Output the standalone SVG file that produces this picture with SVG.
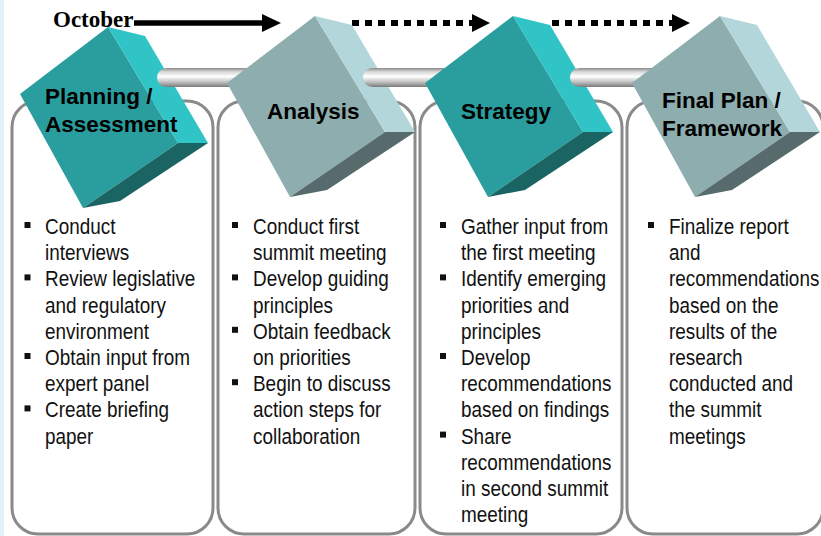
<svg xmlns="http://www.w3.org/2000/svg" width="821" height="536" viewBox="0 0 821 536">
<defs>
<linearGradient id="pipe" x1="0" y1="0" x2="0" y2="1">
<stop offset="0" stop-color="#8a8a8a"/>
<stop offset="0.2" stop-color="#d8d8d8"/>
<stop offset="0.45" stop-color="#ffffff"/>
<stop offset="0.75" stop-color="#bdbdbd"/>
<stop offset="1" stop-color="#7a7a7a"/>
</linearGradient>
</defs>
<style>
.box{fill:#fff;stroke:#8a8a8a;stroke-width:3}
.tf{fill:#2a9e9e}.ts{fill:#30c4c6}.tb{fill:#1b6464}
.gf{fill:#8eadae}.gs{fill:#b2d6da}.gb{fill:#576b6c}
.lbl{font-family:"Liberation Sans",Arial,sans-serif;font-weight:bold;font-size:22.5px;fill:#000}
.bt{font-family:"Liberation Sans",Arial,sans-serif;font-size:21.5px;fill:#111}
.bl{fill:#111}
.pipe{fill:url(#pipe)}
</style>
<rect x="0" y="0" width="821" height="536" fill="#fff"/>
<rect x="0" y="0" width="4" height="536" fill="#e3f1f8"/>

<g id="connectors">
<text x="53" y="27" font-family="'Liberation Serif','Times New Roman',serif" font-weight="bold" font-size="23" fill="#000">October</text>
<line x1="134" y1="23" x2="263" y2="23" stroke="#000" stroke-width="5.5"/>
<polygon points="262,14 281,23 262,32" fill="#000"/>
<line x1="352" y1="23" x2="472" y2="23" stroke="#000" stroke-width="6" stroke-dasharray="7 6"/>
<polygon points="472,14 490,23 472,32" fill="#000"/>
<line x1="552" y1="23" x2="672" y2="23" stroke="#000" stroke-width="6" stroke-dasharray="7 6"/>
<polygon points="672,14 690,23 672,32" fill="#000"/>
</g>

<g id="boxes">
<rect class="box" x="12" y="101" width="201" height="433" rx="26"/>
<rect class="box" x="218" y="101" width="197" height="433" rx="26"/>
<rect class="box" x="420" y="101" width="202" height="433" rx="26"/>
<rect class="box" x="627" y="101" width="196" height="433" rx="26"/>
</g>

<g id="node-planning">
<g transform="translate(-207,11)">
<polygon class="tf" points="315,16 227,83 290,197 385,132"/>
<polygon class="ts" points="315,16 352,25 415,132 385,132"/>
<polygon class="tb" points="385,132 415,132 327,190 290,197"/>
</g>
<text class="lbl" x="45" y="104">Planning /</text>
<text class="lbl" x="45" y="132">Assessment</text>
</g>
<rect id="pipe1" class="pipe" x="157" y="68" width="110" height="19" rx="9.5"/>

<g id="node-analysis">
<polygon class="gf" points="315,16 227,83 290,197 385,132"/>
<polygon class="gs" points="315,16 352,25 415,132 385,132"/>
<polygon class="gb" points="385,132 415,132 327,190 290,197"/>
<text class="lbl" x="267" y="119">Analysis</text>
</g>
<rect id="pipe2" class="pipe" x="363" y="68" width="100" height="19" rx="9.5"/>

<g id="node-strategy">
<g transform="translate(198,0)">
<polygon class="tf" points="315,16 227,83 290,197 385,132"/>
<polygon class="ts" points="315,16 352,25 415,132 385,132"/>
<polygon class="tb" points="385,132 415,132 327,190 290,197"/>
</g>
<text class="lbl" x="461" y="119">Strategy</text>
</g>
<rect id="pipe3" class="pipe" x="570" y="68" width="100" height="19" rx="9.5"/>

<g id="node-final">
<g transform="translate(405,0)">
<polygon class="gf" points="315,16 227,83 290,197 385,132"/>
<polygon class="gs" points="315,16 352,25 415,132 385,132"/>
<polygon class="gb" points="385,132 415,132 327,190 290,197"/>
</g>
<text class="lbl" x="662" y="108">Final Plan /</text>
<text class="lbl" x="662" y="136">Framework</text>
</g>

<g id="list-planning">
<rect class="bl" x="24.5" y="222" width="6" height="6"/>
<rect class="bl" x="24.5" y="274.4" width="6" height="6"/>
<rect class="bl" x="24.5" y="353" width="6" height="6"/>
<rect class="bl" x="24.5" y="405.4" width="6" height="6"/>
<g transform="matrix(0.88 0 0 1 45 0)">
<text class="bt" x="0" y="234">Conduct</text>
<text class="bt" x="0" y="260.2">interviews</text>
<text class="bt" x="0" y="286.4">Review legislative</text>
<text class="bt" x="0" y="312.6">and regulatory</text>
<text class="bt" x="0" y="338.8">environment</text>
<text class="bt" x="0" y="365">Obtain input from</text>
<text class="bt" x="0" y="391.2">expert panel</text>
<text class="bt" x="0" y="417.4">Create briefing</text>
<text class="bt" x="0" y="443.6">paper</text>
</g>
</g>

<g id="list-analysis">
<rect class="bl" x="232" y="222" width="6" height="6"/>
<rect class="bl" x="232" y="274.4" width="6" height="6"/>
<rect class="bl" x="232" y="326.8" width="6" height="6"/>
<rect class="bl" x="232" y="379.2" width="6" height="6"/>
<g transform="matrix(0.88 0 0 1 253 0)">
<text class="bt" x="0" y="234">Conduct first</text>
<text class="bt" x="0" y="260.2">summit meeting</text>
<text class="bt" x="0" y="286.4">Develop guiding</text>
<text class="bt" x="0" y="312.6">principles</text>
<text class="bt" x="0" y="338.8">Obtain feedback</text>
<text class="bt" x="0" y="365">on priorities</text>
<text class="bt" x="0" y="391.2">Begin to discuss</text>
<text class="bt" x="0" y="417.4">action steps for</text>
<text class="bt" x="0" y="443.6">collaboration</text>
</g>
</g>

<g id="list-strategy">
<rect class="bl" x="440" y="222" width="6" height="6"/>
<rect class="bl" x="440" y="274.4" width="6" height="6"/>
<rect class="bl" x="440" y="353" width="6" height="6"/>
<rect class="bl" x="440" y="431.6" width="6" height="6"/>
<g transform="matrix(0.88 0 0 1 461 0)">
<text class="bt" x="0" y="234">Gather input from</text>
<text class="bt" x="0" y="260.2">the first meeting</text>
<text class="bt" x="0" y="286.4">Identify emerging</text>
<text class="bt" x="0" y="312.6">priorities and</text>
<text class="bt" x="0" y="338.8">principles</text>
<text class="bt" x="0" y="365">Develop</text>
<text class="bt" x="0" y="391.2">recommendations</text>
<text class="bt" x="0" y="417.4">based on findings</text>
<text class="bt" x="0" y="443.6">Share</text>
<text class="bt" x="0" y="469.8">recommendations</text>
<text class="bt" x="0" y="496">in second summit</text>
<text class="bt" x="0" y="522.2">meeting</text>
</g>
</g>

<g id="list-final">
<rect class="bl" x="648" y="222" width="6" height="6"/>
<g transform="matrix(0.88 0 0 1 669 0)">
<text class="bt" x="0" y="234">Finalize report</text>
<text class="bt" x="0" y="260.2">and</text>
<text class="bt" x="0" y="286.4">recommendations</text>
<text class="bt" x="0" y="312.6">based on the</text>
<text class="bt" x="0" y="338.8">results of the</text>
<text class="bt" x="0" y="365">research</text>
<text class="bt" x="0" y="391.2">conducted and</text>
<text class="bt" x="0" y="417.4">the summit</text>
<text class="bt" x="0" y="443.6">meetings</text>
</g>
</g>
</svg>
